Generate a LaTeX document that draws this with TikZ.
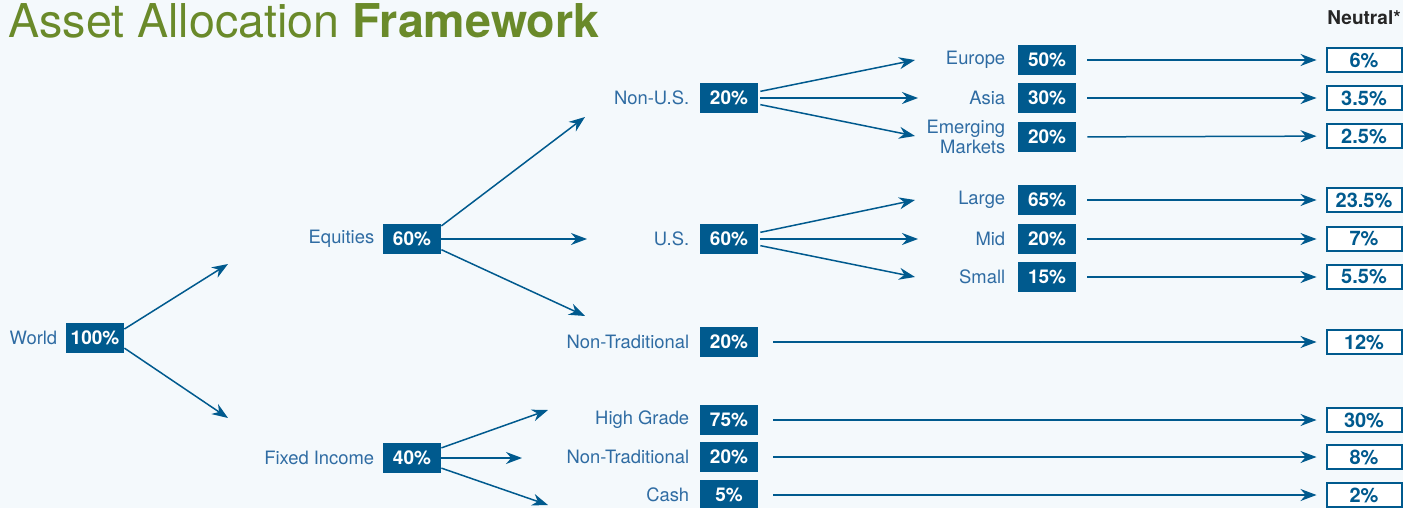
\documentclass[tikz,border=0pt]{standalone}
\usepackage{fontspec}
\setmainfont{TeX Gyre Heros}
\usetikzlibrary{positioning,arrows.meta}
\definecolor{boxblue}{HTML}{005A8E}
\definecolor{txtblue}{HTML}{2F6CA3}
\definecolor{titlegreen}{HTML}{6A8A2A}
\definecolor{paper}{HTML}{F4F9FC}
\tikzset{
pct/.style={fill=boxblue, text=white, font=\bfseries\fontsize{9.5}{11}\selectfont, minimum width=29pt, minimum height=15pt, inner sep=0pt}, % dark share boxes
lbl/.style={text=txtblue, font=\fontsize{9.2}{10}\selectfont, inner sep=0pt, align=right}, % names left of the boxes
neutral/.style={draw=boxblue, line width=1pt, fill=white, text=boxblue, font=\bfseries\fontsize{10}{11}\selectfont, minimum width=37.5pt, minimum height=12pt, inner sep=0pt},
flow/.style={draw=boxblue, line width=0.75pt, -{Stealth[length=8pt,width=6pt]}},
}
\begin{document}
\begin{tikzpicture}[x=0.5pt,y=-0.5pt]
\fill[paper] (0,0) rectangle (1403,508);
\useasboundingbox (0,0) rectangle (1403,508);
\node[anchor=base west, text=titlegreen, font=\fontsize{23.3}{28}\selectfont, inner sep=0pt] (title) at (8,38) {Asset Allocation \textbf{Framework}};
\node[font=\bfseries\fontsize{9.5}{11}\selectfont, text=black!85, inner sep=0pt] (head) at (1364,18) {Neutral*};
% first levels
\node[pct] (w) at (95,338) {100\%};
\node[lbl, left=4pt of w] (wl) {World};
\node[pct] (eq) at (412,239) {60\%};
\node[lbl, left=4pt of eq] (eql) {Equities};
\node[pct] (fi) at (412,458) {40\%};
\node[lbl, left=4pt of fi] (fil) {Fixed Income};
% second level
\node[pct] (nus) at (729,98) {20\%};
\node[lbl, left=5pt of nus] (nusl) {Non-U.S.};
\node[pct] (us) at (729,239) {60\%};
\node[lbl, left=5pt of us] (usl) {U.S.};
\node[pct] (ent) at (729,342) {20\%};
\node[lbl, left=5pt of ent] (entl) {Non-Traditional};
\node[pct] (hg) at (729,420) {75\%};
\node[lbl, left=5pt of hg] (hgl) {High Grade};
\node[pct] (fnt) at (729,457) {20\%};
\node[lbl, left=5pt of fnt] (fntl) {Non-Traditional};
\node[pct] (cash) at (729,495) {5\%};
\node[lbl, left=5pt of cash] (cashl) {Cash};
% third level
\node[pct] (eu) at (1047,60) {50\%};
\node[lbl, left=6pt of eu] (eul) {Europe};
\node[pct] (as) at (1047,98) {30\%};
\node[lbl, left=6pt of as] (asl) {Asia};
\node[pct] (em) at (1047,137) {20\%};
\node[lbl, left=6pt of em] (eml) {Emerging\\Markets};
\node[pct] (lg) at (1047,200) {65\%};
\node[lbl, left=6pt of lg] (lgl) {Large};
\node[pct] (md) at (1047,239) {20\%};
\node[lbl, left=6pt of md] (mdl) {Mid};
\node[pct] (sm) at (1047,277) {15\%};
\node[lbl, left=6pt of sm] (sml) {Small};
% neutral weights
\node[neutral] (n1) at (1364,60) {6\%};
\node[neutral] (n2) at (1364,98) {3.5\%};
\node[neutral] (n3) at (1364,136) {2.5\%};
\node[neutral] (n4) at (1364,200) {23.5\%};
\node[neutral] (n5) at (1364,239) {7\%};
\node[neutral] (n6) at (1364,277) {5.5\%};
\node[neutral] (n7) at (1364,342) {12\%};
\node[neutral] (n8) at (1364,420) {30\%};
\node[neutral] (n9) at (1364,457) {8\%};
\node[neutral] (n10) at (1364,495) {2\%};
% loose arrow ends
\coordinate (wU) at (228,264);
\coordinate (wD) at (228,418);
\coordinate (eqU) at (585,117);
\coordinate (eqM) at (587,239);
\coordinate (eqD) at (585,316);
\coordinate (fiU) at (548,410);
\coordinate (fiM) at (522,458);
\coordinate (fiD) at (548,505);
\coordinate (nusU) at (915,60);
\coordinate (nusM) at (918,98);
\coordinate (nusD) at (915,136);
\coordinate (usU) at (915,200);
\coordinate (usM) at (918,239);
\coordinate (usD) at (915,277);
\draw[flow] (w.17) -- (wU);
\draw[flow] (w.-19) -- (wD);
\draw[flow] (eq.24) -- (eqU);
\draw[flow] (eq.east) -- (eqM);
\draw[flow] (eq.-20) -- (eqD);
\draw[flow] (fi.19) -- (fiU);
\draw[flow] (fi.east) -- (fiM);
\draw[flow] (fi.-19) -- (fiD);
\foreach \s in {nus,us}{
  \draw[flow, shorten <=1pt] (\s.12) -- (\s U);
  \draw[flow, shorten <=1pt] (\s.east) -- (\s M);
  \draw[flow, shorten <=1pt] (\s.-12) -- (\s D);
}
\foreach \a/\b in {eu/n1, as/n2, em/n3, lg/n4, md/n5, sm/n6}
  \draw[flow, shorten <=5.5pt, shorten >=4.5pt] (\a) -- (\b);
\foreach \a/\b in {ent/n7, hg/n8, fnt/n9, cash/n10}
  \draw[flow, shorten <=7.5pt, shorten >=4.5pt] (\a) -- (\b);
\end{tikzpicture}
\end{document}
